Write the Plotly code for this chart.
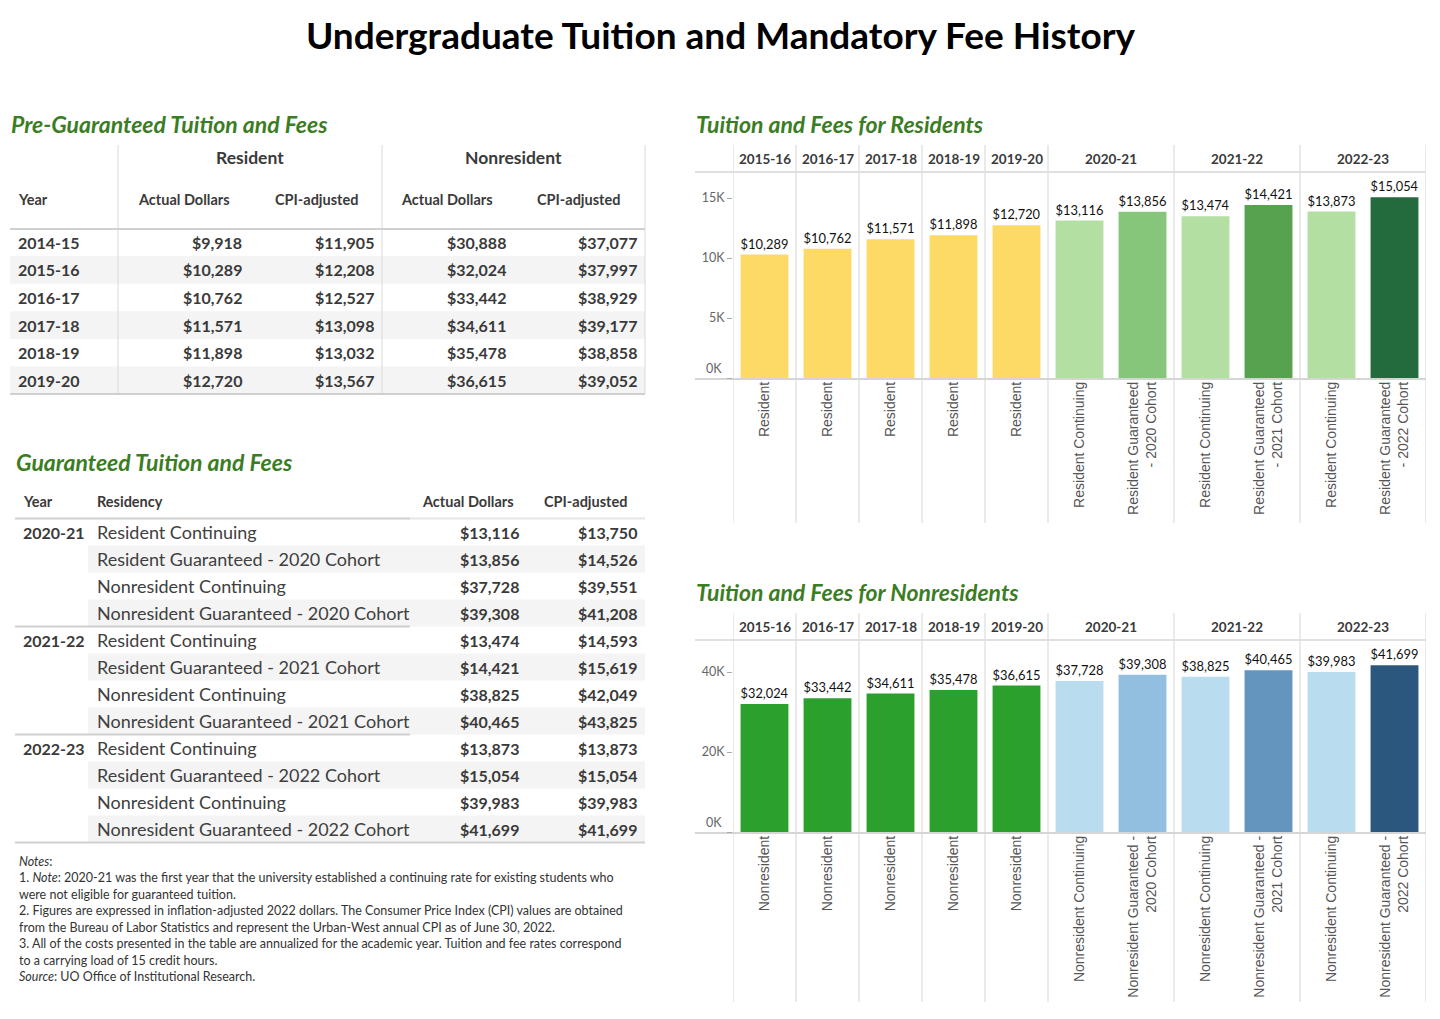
import plotly.graph_objects as go

# The browser page adds an 8px body margin; compensate so that pixel
# positions below refer to the 1440x1019 window.
OFF = 8
W, H = 1440 - 2 * OFF, 1019 - 2 * OFF


def px(x):
    return (x - OFF) / W


def py(y):
    return 1 - (y - OFF) / H


FONT = "Lato, 'Open Sans', sans-serif"
ARIAL = "'Liberation Sans', Arial, sans-serif"
TITLE_GREEN = "#3b7d23"
TXT = "#3a3a3a"
LINE = "#d9d9d9"
BAND = "#f4f4f4"

# ---------------- Data ----------------
pre_years = ["2014-15", "2015-16", "2016-17", "2017-18", "2018-19", "2019-20"]
pre_res_actual = [9918, 10289, 10762, 11571, 11898, 12720]
pre_res_cpi = [11905, 12208, 12527, 13098, 13032, 13567]
pre_non_actual = [30888, 32024, 33442, 34611, 35478, 36615]
pre_non_cpi = [37077, 37997, 38929, 39177, 38858, 39052]

g_years = ["2020-21", "", "", "", "2021-22", "", "", "", "2022-23", "", "", ""]
g_residency = [
    "Resident Continuing", "Resident Guaranteed - 2020 Cohort",
    "Nonresident Continuing", "Nonresident Guaranteed - 2020 Cohort",
    "Resident Continuing", "Resident Guaranteed - 2021 Cohort",
    "Nonresident Continuing", "Nonresident Guaranteed - 2021 Cohort",
    "Resident Continuing", "Resident Guaranteed - 2022 Cohort",
    "Nonresident Continuing", "Nonresident Guaranteed - 2022 Cohort",
]
g_actual = [13116, 13856, 37728, 39308, 13474, 14421, 38825, 40465, 13873, 15054, 39983, 41699]
g_cpi = [13750, 14526, 39551, 41208, 14593, 15619, 42049, 43825, 13873, 15054, 39983, 41699]

chart_years = ["2015-16", "2016-17", "2017-18", "2018-19", "2019-20",
               "2020-21", "2020-21", "2021-22", "2021-22", "2022-23", "2022-23"]

res_labels = ["Resident"] * 5 + [
    "Resident Continuing", "Resident Guaranteed<br>- 2020 Cohort",
    "Resident Continuing", "Resident Guaranteed<br>- 2021 Cohort",
    "Resident Continuing", "Resident Guaranteed<br>- 2022 Cohort"]
res_values = [10289, 10762, 11571, 11898, 12720, 13116, 13856, 13474, 14421, 13873, 15054]
res_colors = ["#fdd966"] * 5 + ["#b3dfa3", "#86c67a", "#b3dfa3", "#57a24f", "#b3dfa3", "#236b3c"]

non_labels = ["Nonresident"] * 5 + [
    "Nonresident Continuing", "Nonresident Guaranteed -<br>2020 Cohort",
    "Nonresident Continuing", "Nonresident Guaranteed -<br>2021 Cohort",
    "Nonresident Continuing", "Nonresident Guaranteed -<br>2022 Cohort"]
non_values = [32024, 33442, 34611, 35478, 36615, 37728, 39308, 38825, 40465, 39983, 41699]
non_colors = ["#2ca02c"] * 5 + ["#b9dcef", "#92bfdf", "#b9dcef", "#6395be", "#b9dcef", "#2b577f"]

res_ticks = ["0K", "5K", "10K", "15K"]
res_tickvals = [0, 5000, 10000, 15000]
non_ticks = ["0K", "20K", "40K"]
non_tickvals = [0, 20000, 40000]

# ---------------- Figure ----------------
fig = go.Figure()
annotations = []
shapes = []


def ann(text, x, y, size, color=TXT, xanchor="left", weight="normal", family=FONT,
        style="normal", xref="paper", yanchor="middle"):
    annotations.append(dict(
        text=text, x=x, y=y, xref=xref, yref="paper", xanchor=xanchor, yanchor=yanchor,
        showarrow=False, font=dict(family=family, size=size, color=color, weight=weight, style=style),
        borderpad=0))


def hline(x0, x1, y, color=LINE, width=1):
    shapes.append(dict(type="line", xref="paper", yref="paper", x0=px(x0), x1=px(x1),
                       y0=py(y), y1=py(y), line=dict(color=color, width=width), layer="below"))


def vline(x, y0, y1, color=LINE, width=1):
    shapes.append(dict(type="line", xref="paper", yref="paper", x0=px(x), x1=px(x),
                       y0=py(y0), y1=py(y1), line=dict(color=color, width=width), layer="below"))


def band(x0, x1, y0, y1, color=BAND):
    shapes.append(dict(type="rect", xref="paper", yref="paper", x0=px(x0), x1=px(x1),
                       y0=py(y1), y1=py(y0), fillcolor=color, line=dict(width=0), layer="below"))


def money(v):
    return f"${v:,}"


# Title
ann("Undergraduate Tuition and Mandatory Fee History", px(720), py(35), 37, "#000000",
    xanchor="center", weight="bold")

# ---------- Pre-Guaranteed table ----------
ann("Pre-Guaranteed Tuition and Fees", px(10), py(124), 23, TITLE_GREEN, weight="bold", style="italic")
t1_top, t1_head, t1_row0, t1_rh = 145, 229, 228.5, 27.6
t1_bottom = t1_row0 + t1_rh * len(pre_years)
for i in range(len(pre_years)):
    if i % 2 == 1:
        band(10, 645, t1_row0 + i * t1_rh, t1_row0 + (i + 1) * t1_rh)
for xv in (118, 382, 645):
    vline(xv, t1_top, t1_bottom)
hline(10, 645, t1_head, "#d0d0d0", 2)
hline(10, 645, t1_bottom, "#d0d0d0", 2)
ann("Resident", px(250), py(158), 17.5, TXT, "center", weight="bold")
ann("Nonresident", px(513), py(158), 17.5, TXT, "center", weight="bold")
ann("Year", px(17), py(199), 14.5, TXT, weight="bold")
for cx, lab in zip((184, 316, 447, 578), ("Actual Dollars", "CPI-adjusted", "Actual Dollars", "CPI-adjusted")):
    ann(lab, px(cx), py(199), 14.5, TXT, "center", weight="bold")
cols1 = [pre_res_actual, pre_res_cpi, pre_non_actual, pre_non_cpi]
rights1 = [243, 375, 507, 638]
for i, yr in enumerate(pre_years):
    yc = t1_row0 + (i + 0.5) * t1_rh
    ann(yr, px(17), py(yc), 16, TXT, weight="bold")
    for col, rx in zip(cols1, rights1):
        ann(money(col[i]), px(rx), py(yc), 16, TXT, "right", weight="bold")

# ---------- Guaranteed table ----------
ann("Guaranteed Tuition and Fees", px(15), py(462), 23, TITLE_GREEN, weight="bold", style="italic")
t2_row0, t2_rh = 518.5, 27.0
ann("Year", px(22), py(501), 14.5, TXT, weight="bold")
ann("Residency", px(96), py(501), 14.5, TXT, weight="bold")
ann("Actual Dollars", px(468), py(501), 14.5, TXT, "center", weight="bold")
ann("CPI-adjusted", px(585), py(501), 14.5, TXT, "center", weight="bold")
for i in range(len(g_residency)):
    if i % 2 == 1:
        band(88, 645, t2_row0 + i * t2_rh, t2_row0 + (i + 1) * t2_rh)
hline(15, 410, t2_row0, "#cfcfcf", 2)
hline(410, 645, t2_row0, "#e6e6e6", 2)
for i, yr in enumerate(g_years):
    if yr and i > 0:
        hline(15, 410, t2_row0 + i * t2_rh, "#cfcfcf", 2)
t2_bottom = t2_row0 + len(g_residency) * t2_rh
hline(15, 645, t2_bottom, "#d0d0d0", 2)
for i in range(len(g_residency)):
    yc = t2_row0 + (i + 0.5) * t2_rh
    if g_years[i]:
        ann(g_years[i], px(22), py(yc), 16, TXT, weight="bold")
    ann(g_residency[i], px(96), py(yc), 18, "#404040")
    ann(money(g_actual[i]), px(520), py(yc), 16, TXT, "right", weight="bold")
    ann(money(g_cpi[i]), px(638), py(yc), 16, TXT, "right", weight="bold")

# ---------- Notes ----------
notes = [
    "<i>Notes</i>:",
    "1. <i>Note</i>: 2020-21 was the first year that the university established a continuing rate for existing students who",
    "were not eligible for guaranteed tuition.",
    "2. Figures are expressed in inflation-adjusted 2022 dollars. The Consumer Price Index (CPI) values are obtained",
    "from the Bureau of Labor Statistics and represent the Urban-West annual CPI as of June 30, 2022.",
    "3. All of the costs presented in the table are annualized for the academic year. Tuition and fee rates correspond",
    "to a carrying load of 15 credit hours.",
    "<i>Source</i>: UO Office of Institutional Research.",
]
for i, line in enumerate(notes):
    ann(line, px(18), py(861 + 16.5 * i), 12.5, "#333333")


# ---------- Bar charts ----------
def bar_panel(labels, values, colors, xaxis, yaxis, title, title_y, head_top, head_bot,
              base_y, sep_bottom, ymax, tickvals, ticktext):
    ids = [f"{y}|{l}" for y, l in zip(chart_years, labels)]
    fig.add_trace(go.Bar(
        x=ids, y=values, marker=dict(color=colors, line=dict(width=0)),
        text=[money(v) for v in values], textposition="outside",
        textfont=dict(family=FONT, size=13, color="#111111"),
        cliponaxis=False, xaxis=xaxis, yaxis=yaxis, hoverinfo="skip", width=0.76))
    ax = "xaxis" + xaxis[1:]
    ay = "yaxis" + yaxis[1:]
    # Tableau draws the "0K" label nudged above the baseline
    shown = ["" if v == 0 else t for v, t in zip(tickvals, ticktext)]
    fig.update_layout({
        ax: dict(domain=[px(733), px(1426)], type="category", range=[-0.5, len(ids) - 0.5],
                 tickvals=ids, ticktext=labels, tickangle=-90,
                 tickfont=dict(family=ARIAL, size=14, color="#555555"),
                 showline=False, showgrid=False, zeroline=False, ticks="",
                 anchor=yaxis, fixedrange=True),
        ay: dict(domain=[py(base_y), py(head_bot)], range=[0, ymax],
                 tickvals=tickvals, ticktext=shown, ticks="outside", ticklen=5,
                 tickcolor="#aaaaaa", tickfont=dict(family=FONT, size=12.5, color="#666666"),
                 showgrid=False, zeroline=False, showline=False, anchor=xaxis, fixedrange=True),
    })
    for v, t in zip(tickvals, ticktext):
        if v == 0:
            ann(t, px(723), py(base_y - 10), 12.5, "#666666", "right")
    ann(title, px(695), py(title_y), 23, TITLE_GREEN, weight="bold", style="italic")
    # year groups
    groups = []
    for i, yr in enumerate(chart_years):
        if groups and groups[-1][0] == yr:
            groups[-1][2] = i
        else:
            groups.append([yr, i, i])
    for yr, s, e in groups:
        annotations.append(dict(text=yr, x=(s + e) / 2, y=py((head_top + head_bot) / 2 + 0.5),
                                xref=xaxis, yref="paper", xanchor="center", yanchor="middle",
                                showarrow=False,
                                font=dict(family=FONT, size=13.5, color=TXT, weight="bold")))
        shapes.append(dict(type="line", xref=xaxis, yref="paper", x0=s - 0.5, x1=s - 0.5,
                           y0=py(sep_bottom), y1=py(head_top), line=dict(color="#dcdcdc", width=1.2),
                           layer="below"))
    last = groups[-1][2] + 0.5
    shapes.append(dict(type="line", xref=xaxis, yref="paper", x0=last, x1=last,
                       y0=py(sep_bottom), y1=py(head_top), line=dict(color="#dcdcdc", width=1.2),
                       layer="below"))
    hline(695, 1426, head_bot, "#e0e0e0", 2)
    hline(695, 1426, base_y + 1, "#d5d5d5", 2)


bar_panel(res_labels, res_values, res_colors, "x", "y", "Tuition and Fees for Residents", 124,
          145, 172, 378, 523, (378 - 172) / 0.012, res_tickvals, res_ticks)
bar_panel(non_labels, non_values, non_colors, "x2", "y2", "Tuition and Fees for Nonresidents", 592,
          613, 640, 832, 1002, (832 - 640) / 0.004, non_tickvals, non_ticks)

fig.update_layout(
    width=W, height=H, margin=dict(l=0, r=0, t=0, b=0),
    paper_bgcolor="white", plot_bgcolor="white", showlegend=False,
    annotations=annotations, shapes=shapes, bargap=0.24,
    font=dict(family=FONT, color=TXT),
)

fig.write_html("out.html", config={"displayModeBar": False})
